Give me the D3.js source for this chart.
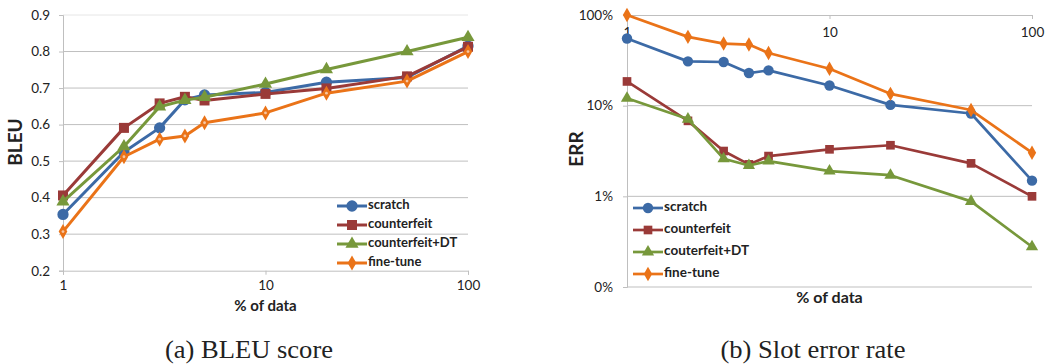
<!DOCTYPE html>
<html><head><meta charset="utf-8">
<script src="https://cdn.jsdelivr.net/npm/d3@7"></script>
<style>
body{margin:0;background:#fff;}
svg text{font-family:Lato,"Open Sans",sans-serif;fill:#222;}
</style></head>
<body><svg id="c" width="1046" height="364"></svg>
<script>
const xPct = [1, 2, 3, 4, 5, 10, 20, 50, 100];
const bleuScratch = [0.354, 0.525, 0.591, 0.668, 0.681, 0.688, 0.716, 0.729, 0.815];
const bleuCounterfeit = [0.406, 0.591, 0.658, 0.676, 0.666, 0.684, 0.699, 0.732, 0.813];
const bleuCounterfeitDT = [0.389, 0.540, 0.649, 0.667, 0.675, 0.711, 0.751, 0.800, 0.839];
const bleuFineTune = [0.307, 0.512, 0.560, 0.569, 0.605, 0.632, 0.686, 0.719, 0.800];
const errScratch = [0.551, 0.308, 0.303, 0.229, 0.245, 0.167, 0.102, 0.082, 0.0149];
const errCounterfeit = [0.185, 0.068, 0.0316, 0.0225, 0.0278, 0.033, 0.0366, 0.0231, 0.0100];
const errCounterfeitDT = [0.1206, 0.0711, 0.026, 0.0219, 0.0245, 0.019, 0.0171, 0.0088, 0.00278];
const errFineTune = [1.0, 0.574, 0.484, 0.472, 0.381, 0.255, 0.135, 0.0895, 0.0303];
const leftNames = ["scratch", "counterfeit", "counterfeit+DT", "fine-tune"];
const rightNames = ["scratch", "counterfeit", "couterfeit+DT", "fine-tune"];
const bleuTicks = [0.2, 0.3, 0.4, 0.5, 0.6, 0.7, 0.8, 0.9];
const errTicks = [0.001, 0.01, 0.1, 1];
const xTicks = [1, 10, 100];
const captions = ["(a) BLEU score", "(b) Slot error rate"];

const colors = ["#3C6AA6", "#9A3A38", "#77983B", "#EA7318"];
const symbols = [d3.symbolCircle, d3.symbolSquare, d3.symbolTriangle, d3.symbolDiamond];

const svg = d3.select("#c");
const grid = "#BFBFBF";

function styleAxis(g){
  g.select(".domain").attr("stroke", grid);
  g.selectAll(".tick line").attr("stroke", grid);
  g.selectAll(".tick text").attr("fill", "#222").attr("font-family", "Lato, sans-serif");
}

function drawChart(o){
  const g = svg.append("g");
  g.append("g").selectAll("line").data(o.grid).join("line")
    .attr("x1", o.x.range()[0]).attr("x2", o.x.range()[1])
    .attr("y1", d => o.y(d)).attr("y2", d => o.y(d))
    .attr("stroke", d => (o.lightTop && d === o.grid[o.grid.length-1]) ? "#E6E6E6" : grid)
    .attr("stroke-width", 1);
  const ya = g.append("g").attr("transform", `translate(${o.x.range()[0]},0)`)
    .call(d3.axisLeft(o.y).tickValues(o.yTicks).tickFormat(o.yFmt).tickSize(4).tickPadding(o.yPad))
    .attr("font-size", o.tickFont);
  styleAxis(ya);
  const xa = g.append("g").attr("transform", `translate(0,${o.xAxisY})`)
    .call(d3.axisBottom(o.x).tickValues(xTicks).tickFormat(d3.format("d")).tickSize(4).tickPadding(o.xPad))
    .attr("font-size", o.tickFont);
  styleAxis(xa);
  g.append("text").attr("transform", `translate(${o.yTitleX},${o.yTitleY}) rotate(-90)`)
    .attr("text-anchor", "middle").attr("dominant-baseline", "middle")
    .attr("font-weight", "bold").attr("font-size", o.titleFont).text(o.yTitle);
  g.append("text").attr("x", (o.x.range()[0] + o.x.range()[1]) / 2).attr("y", o.xTitleY)
    .attr("text-anchor", "middle").attr("dominant-baseline", "middle")
    .attr("font-weight", "bold").attr("font-size", o.xTitleFont).text("% of data");
  const line = d3.line().x((d,i) => o.x(xPct[i])).y(d => o.y(d));
  o.series.forEach((s, k) => {
    g.append("path").attr("d", line(s)).attr("fill", "none")
      .attr("stroke", colors[k]).attr("stroke-width", o.lw).attr("stroke-linejoin", "round");
    const m = g.append("g").selectAll("g").data(s).join("g")
      .attr("transform", (d,i) => `translate(${o.x(xPct[i])},${o.y(d)})`);
    m.append("path").attr("d", d3.symbol(symbols[k], o.sym[k])).attr("fill", colors[k]);
    if (k === 3 && o.dot) m.append("circle").attr("r", 1.4).attr("fill", "#F6C7A4");
  });
  o.names.forEach((n, k) => {
    const ly = o.legY + k * o.legDy;
    g.append("line").attr("x1", o.legX).attr("x2", o.legX + 30).attr("y1", ly).attr("y2", ly)
      .attr("stroke", colors[k]).attr("stroke-width", o.lw);
    g.append("path").attr("transform", `translate(${o.legX + 15},${ly})`)
      .attr("d", d3.symbol(symbols[k], o.sym[k])).attr("fill", colors[k]);
    g.append("text").attr("x", o.legX + 31).attr("y", ly).attr("dominant-baseline", "middle")
      .attr("font-weight", "bold").attr("font-size", o.legFont).text(n);
  });
}

drawChart({
  x: d3.scaleLog().domain([1, 100]).range([63, 468]),
  y: d3.scaleLinear().domain([0.2, 0.9]).range([270.7, 15]),
  grid: bleuTicks.slice(1), lightTop: true, dot: true,
  yTicks: bleuTicks, yFmt: d3.format(".1f"), yPad: 9,
  xAxisY: 270.7, xPad: 6, tickFont: 13.5,
  yTitle: "BLEU", yTitleX: 17, yTitleY: 142, titleFont: 19,
  xTitleY: 307, xTitleFont: 15,
  series: [bleuScratch, bleuCounterfeit, bleuCounterfeitDT, bleuFineTune],
  names: leftNames, sym: [100, 100, 75, 65], lw: 3,
  legX: 337, legY: 206, legDy: 19, legFont: 13
});

drawChart({
  x: d3.scaleLog().domain([1, 100]).range([627, 1032]),
  y: d3.scaleLog().domain([0.001, 1]).range([287, 15]),
  grid: errTicks.slice(0, 3), lightTop: false, dot: false,
  yTicks: errTicks, yFmt: d3.format(".0%"), yPad: 10,
  xAxisY: 15, xPad: 8, tickFont: 13.5,
  yTitle: "ERR", yTitleX: 578, yTitleY: 149, titleFont: 19,
  xTitleY: 299, xTitleFont: 16,
  series: [errScratch, errCounterfeit, errCounterfeitDT, errFineTune],
  names: rightNames, sym: [85, 75, 65, 60], lw: 2.7,
  legX: 633, legY: 208, legDy: 22, legFont: 13.5
});

const capX = [249, 813], capW = [168, 185];
captions.forEach((c, i) => {
  svg.append("text").attr("x", capX[i]).attr("y", 358).attr("text-anchor", "middle")
    .attr("textLength", capW[i]).attr("lengthAdjust", "spacingAndGlyphs")
    .style("font-family", "'Liberation Serif', 'Times New Roman', serif").attr("font-size", 25).text(c);
});
</script></body></html>
